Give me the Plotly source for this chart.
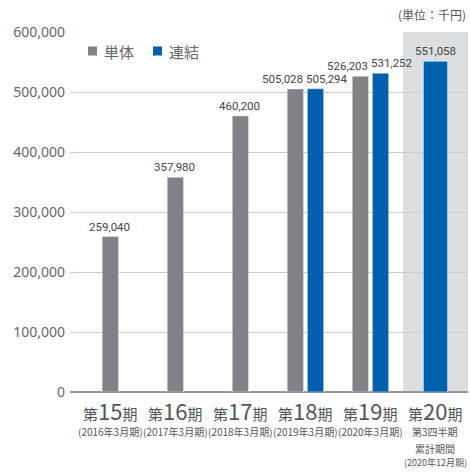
import plotly.graph_objects as go

periods = [15, 16, 17, 18, 19, 20]
sub_labels = [
    ["(2016年3月期)"],
    ["(2017年3月期)"],
    ["(2018年3月期)"],
    ["(2019年3月期)"],
    ["(2020年3月期)"],
    ["第3四半期", "累計期間", "(2020年12月期)"],
]
single = [259040, 357980, 460200, 505028, 526203, None]
consolidated = [None, None, None, 505294, 531252, 551058]
series_names = ["単体", "連結"]
unit_label = "(単位：千円)"

GREY = "#808285"
BLUE = "#0060ad"
NUM_FONT = "Roboto"
JP_FONT = "Noto Sans CJK JP"

# pixel geometry of the plot area (layout only)
L, R, T, B = 70, 2, 32, 80
W, H = 470, 472
PW, PH = W - L - R, H - T - B

def px_x(x):
    return (x - L) / PW

def px_y(y):
    return (H - B - y) / PH

xs = list(range(len(periods)))

# offsets/widths (style only)
g_off, g_w, b_off, b_w, g_shift, b_shift = [], [], [], [], [], []
for s, c in zip(single, consolidated):
    if s is not None and c is not None:
        g_off.append(-0.28); g_w.append(0.25); g_shift.append(-13)
        b_off.append(0.03); b_w.append(0.25); b_shift.append(11)
    elif s is not None:
        g_off.append(-0.125); g_w.append(0.25); g_shift.append(-1)
        b_off.append(0.0); b_w.append(0.25); b_shift.append(0)
    else:
        g_off.append(0.0); g_w.append(0.25); g_shift.append(0)
        b_off.append(-0.185); b_w.append(0.37); b_shift.append(0)

fig = go.Figure()
fig.add_trace(go.Bar(x=xs, y=single, name=series_names[0], marker_color=GREY,
                     offset=g_off, width=g_w, showlegend=False))
fig.add_trace(go.Bar(x=xs, y=consolidated, name=series_names[1], marker_color=BLUE,
                     offset=b_off, width=b_w, showlegend=False))

# value labels
for vals, offs, wids, shifts in ((single, g_off, g_w, g_shift), (consolidated, b_off, b_w, b_shift)):
    for i, v in enumerate(vals):
        if v is None:
            continue
        fig.add_annotation(x=xs[i] + offs[i] + wids[i] / 2, y=v, xref="x", yref="y",
                           text=f"{v:,}", showarrow=False, yanchor="bottom", yshift=1,
                           xshift=shifts[i],
                           font=dict(family=NUM_FONT, size=11.5, color="#444"))

# shaded last period
fig.add_shape(type="rect", xref="x", yref="paper", x0=4.5, x1=5.5, y0=0, y1=1,
              fillcolor="#dcdfe1", line_width=0, layer="below")

# x labels
sub_y = [-0.111, -0.156, -0.197]
for i, (p, subs) in enumerate(zip(periods, sub_labels)):
    fig.add_annotation(
        x=i, y=-0.05, xref="x", yref="paper", yanchor="middle", showarrow=False,
        text=f"第<span style='font-size:22px'>{p}</span>期",
        font=dict(family=JP_FONT, size=15, color="#555"),
    )
    for j, s in enumerate(subs):
        fig.add_annotation(
            x=i, y=sub_y[j], xref="x", yref="paper", yanchor="middle", showarrow=False,
            text=s, font=dict(family=JP_FONT, size=10 if len(s) < 11 else 9, color="#555"),
        )

# legend (manual)
leg = [(series_names[0], GREY, 88), (series_names[1], BLUE, 153)]
for name, col, x0 in leg:
    fig.add_shape(type="rect", xref="paper", yref="paper",
                  x0=px_x(x0), x1=px_x(x0 + 9), y0=px_y(55.5), y1=px_y(46.5),
                  fillcolor=col, line_width=0)
    fig.add_annotation(x=px_x(x0 + 14), y=px_y(51), xref="paper", yref="paper",
                       xanchor="left", yanchor="middle", showarrow=False, text=name,
                       font=dict(family=JP_FONT, size=15, color="#666"))

fig.add_annotation(
    x=1.0, y=px_y(15), xref="paper", yref="paper", xanchor="right", yanchor="middle",
    showarrow=False, text=unit_label, font=dict(family=JP_FONT, size=12, color="#555"),
)

fig.update_layout(
    width=W, height=H,
    margin=dict(l=L, r=R, t=T, b=B),
    paper_bgcolor="white", plot_bgcolor="white",
    barmode="overlay",
    showlegend=False,
    xaxis=dict(range=[-0.62, 5.5], showticklabels=False, showgrid=False,
               zeroline=False, showline=False, fixedrange=True),
    yaxis=dict(range=[0, 600000], tickvals=[0, 100000, 200000, 300000, 400000, 500000, 600000],
               tickformat=",", gridcolor="#cccccc", gridwidth=1,
               zeroline=True, zerolinecolor="#999999", zerolinewidth=1.5,
               tickfont=dict(family="Noto Sans", size=14, color="#666"),
               ticks="", ticklabelstandoff=4, fixedrange=True),
    font=dict(family=JP_FONT),
)

fig.write_html("out.html", config={"displayModeBar": False},
               post_script="document.body.style.margin='0px';")
